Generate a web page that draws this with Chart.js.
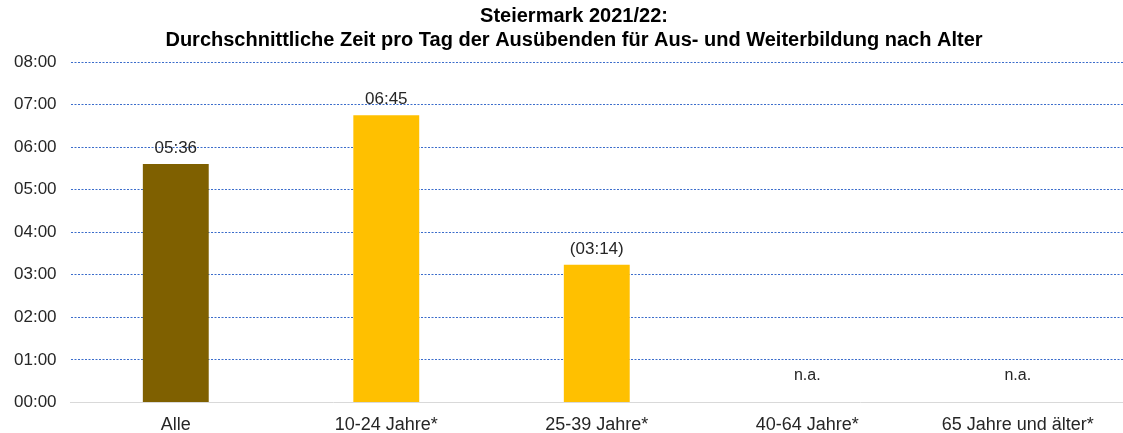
<!DOCTYPE html>
<html>
<head>
<meta charset="utf-8">
<script src="https://cdn.jsdelivr.net/npm/chart.js@4.4.0/dist/chart.umd.min.js"></script>
<style>
  html, body { margin: 0; padding: 0; background: #fff; overflow: hidden; }
  #wrap { width: 1123px; height: 436px; }
</style>
</head>
<body>
<div id="wrap"><canvas id="zeitChart"></canvas></div>
<script>
// Werte in Minuten pro Tag (null = n.a.)
var categories = ['Alle', '10-24 Jahre*', '25-39 Jahre*', '40-64 Jahre*', '65 Jahre und älter*'];
var minutes = [336, 405, 194, null, null];
var bracketed = [false, false, true, false, false];
var barColors = ['#7F6000', '#FFC000', '#FFC000', '#FFC000', '#FFC000'];
var yTicks = [0, 60, 120, 180, 240, 300, 360, 420, 480];
var titleLines = ['Steiermark 2021/22:', 'Durchschnittliche Zeit pro Tag der Ausübenden für Aus- und Weiterbildung nach Alter'];

function fmt(m) {
  var h = Math.floor(m / 60), mm = Math.round(m % 60);
  return (h < 10 ? '0' : '') + h + ':' + (mm < 10 ? '0' : '') + mm;
}

var FONT = '"Liberation Sans", Arial, sans-serif';

// title drawn by hand, Excel centres it a bit right of the canvas middle
var titlePlugin = {
  id: 'shiftedTitle',
  afterDraw: function(chart) {
    var ctx = chart.ctx;
    ctx.save();
    ctx.fillStyle = '#000';
    ctx.font = 'bold 20px ' + FONT;
    ctx.textAlign = 'center';
    ctx.textBaseline = 'middle';
    titleLines.forEach(function(line, i) {
      ctx.fillText(line, 574, 16 + i * 24);
    });
    ctx.restore();
  }
};

var labelPlugin = {
  id: 'valueLabels',
  afterDatasetsDraw: function(chart) {
    var ctx = chart.ctx;
    var meta = chart.getDatasetMeta(0);
    var yScale = chart.scales.y;
    ctx.save();
    ctx.fillStyle = '#262626';
    ctx.textAlign = 'center';
    ctx.textBaseline = 'alphabetic';
    meta.data.forEach(function(bar, i) {
      var v = minutes[i];
      if (v === null) {
        ctx.font = '16px ' + FONT;
        ctx.fillText('n.a.', bar.x, yScale.getPixelForValue(0) - 22);
      } else {
        ctx.font = '17px ' + FONT;
        var t = fmt(v);
        if (bracketed[i]) t = '(' + t + ')';
        ctx.fillText(t, bar.x, bar.y - 11);
      }
    });
    ctx.restore();
  }
};

var ctx = document.getElementById('zeitChart');
var chart = new Chart(ctx, {
  type: 'bar',
  data: {
    labels: categories,
    datasets: [{
      data: minutes,
      backgroundColor: barColors,
      borderWidth: 0,
      barPercentage: 0.313,
      categoryPercentage: 1.0
    }]
  },
  options: {
    responsive: true,
    maintainAspectRatio: false,
    animation: false,
    layout: { padding: { left: 0, right: 0, top: 62, bottom: -12 } },
    plugins: {
      legend: { display: false },
      tooltip: { enabled: false },
      title: { display: false }
    },
    scales: {
      x: {
        grid: { display: false, drawTicks: false },
        border: { display: true, color: '#D9D9D9', width: 1 },
        ticks: {
          color: '#262626',
          padding: 12,
          font: { family: FONT, size: 18 }
        }
      },
      y: {
        min: 0,
        max: 480,
        afterBuildTicks: function(axis) {
          axis.ticks = yTicks.map(function(v) { return { value: v }; });
        },
        grid: {
          color: function(c) { return c.tick.value === 0 ? 'rgba(0,0,0,0)' : '#3B6CCB'; },
          lineWidth: 1,
          drawTicks: false
        },
        border: { display: false, dash: [2, 1.5] },
        ticks: {
          color: '#262626',
          padding: 14,
          font: { family: FONT, size: 17 },
          callback: function(v) { return fmt(v); }
        }
      }
    }
  },
  plugins: [labelPlugin, titlePlugin]
});
</script>
</body>
</html>
